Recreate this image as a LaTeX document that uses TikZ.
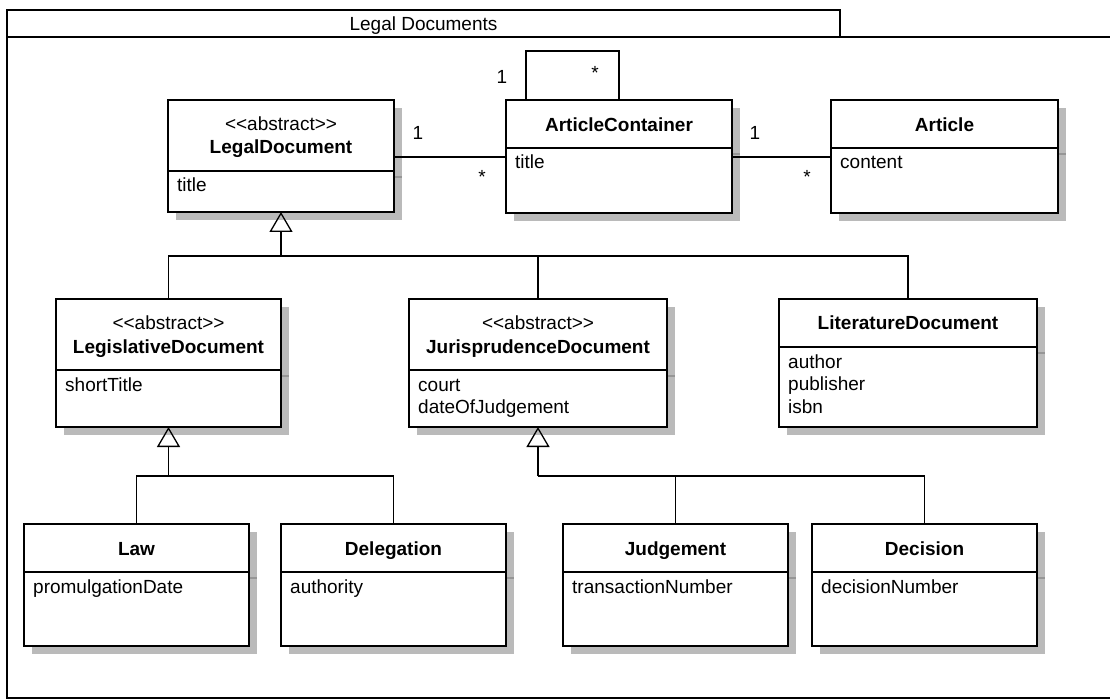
\documentclass[tikz,border=0pt]{standalone}
\usepackage{fontspec}
\setmainfont{Liberation Sans}
\usetikzlibrary{arrows.meta,calc}
\definecolor{shadowgray}{RGB}{186,186,186}
\definecolor{shadowline}{RGB}{150,150,150}
\tikzset{
  clsbox/.style={draw, line width=2.6pt, fill=white, inner sep=0pt, outer sep=0pt},
  boxline/.style={line width=2.6pt},
  frame/.style={line width=2pt},
  conn/.style={line width=1.3pt},
  gen/.style={-{Triangle[open,width=23pt,length=20pt,line width=1.3pt]}},
  txt/.style={inner sep=0pt, font=\fontsize{19}{22}\selectfont},
  hdr/.style={txt, anchor=base},
  bhdr/.style={txt, anchor=base, font=\fontsize{19}{22}\selectfont\bfseries},
  attr/.style={txt, anchor=base west},
  mult/.style={txt, anchor=center},
}
% name, left, top, right, divider, bottom
\newcommand\umlbox[6]{%
  \fill[shadowgray] (#2+8,#3+8) rectangle (#4+8,#6+8);
  \draw[shadowline, line width=1.2pt] (#4+1,#5+6) -- (#4+8,#5+6);
  \node[clsbox, minimum width={(#4-#2)*1pt}, minimum height={(#6-#3)*1pt}] (#1) at ({(#2+#4)/2},{(#3+#6)/2}) {};
  \draw[boxline] (#2,#5) -- (#4,#5);
}
\begin{document}
\begin{tikzpicture}[x=1pt,y=-1pt]
\useasboundingbox (0,0) rectangle (1110,700);
% package frame
\node[draw, frame, minimum width=833pt, minimum height=27pt, inner sep=0pt, outer sep=0pt] (tab) at (423.5,23.5) {};
\node[hdr] (tabtxt) at (423.5,31) {Legal Documents};
\draw[frame] (1112,37) -- (7,37) -- (7,698) -- (1112,698);

% classes
\umlbox{ld}{168}{100}{394}{171}{212}
\node[hdr] (ld-s) at (281,131) {<\kern0pt<abstract>\kern0pt>};
\node[bhdr] (ld-n) at (281,154) {LegalDocument};
\node[attr] (ld-a1) at (177,192) {title};

\umlbox{ac}{506}{100}{732}{148}{213}
\node[bhdr] (ac-n) at (619,132) {ArticleContainer};
\node[attr] (ac-a1) at (515,169) {title};

\umlbox{art}{831}{100}{1058}{148}{213}
\node[bhdr] (art-n) at (944.5,132) {Article};
\node[attr] (art-a1) at (840,169) {content};

\umlbox{leg}{56}{299}{281}{370}{427}
\node[hdr] (leg-s) at (168.5,330) {<\kern0pt<abstract>\kern0pt>};
\node[bhdr] (leg-n) at (168.5,353) {LegislativeDocument};
\node[attr] (leg-a1) at (65,391) {shortTitle};

\umlbox{jur}{409}{299}{667}{370}{427}
\node[hdr] (jur-s) at (538,330) {<\kern0pt<abstract>\kern0pt>};
\node[bhdr] (jur-n) at (538,353) {JurisprudenceDocument};
\node[attr] (jur-a1) at (418,391) {court};
\node[attr] (jur-a2) at (418,413.5) {dateOfJudgement};

\umlbox{lit}{779}{299}{1037}{347}{427}
\node[bhdr] (lit-n) at (908,330) {LiteratureDocument};
\node[attr] (lit-a1) at (788,368) {author};
\node[attr] (lit-a2) at (788,390.5) {publisher};
\node[attr] (lit-a3) at (788,413) {isbn};

\umlbox{law}{24}{524}{249}{572}{646}
\node[bhdr] (law-n) at (136.5,555) {Law};
\node[attr] (law-a1) at (33,593) {promulgationDate};

\umlbox{del}{281}{524}{506}{572}{646}
\node[bhdr] (del-n) at (393.5,555) {Delegation};
\node[attr] (del-a1) at (290,593) {authority};

\umlbox{jud}{563}{524}{788}{572}{646}
\node[bhdr] (jud-n) at (675.5,555) {Judgement};
\node[attr] (jud-a1) at (572,593) {transactionNumber};

\umlbox{dec}{812}{524}{1037}{572}{646}
\node[bhdr] (dec-n) at (924.5,555) {Decision};
\node[attr] (dec-a1) at (821,593) {decisionNumber};

% associations
\coordinate (asy) at (0,157);
\draw[conn] (ld.east |- asy) -- (ac.west |- asy);
\draw[conn] (ac.east |- asy) -- (art.west |- asy);
\node[mult] (m1) at (418,133) {1};
\node[mult] (m2) at (482,177) {*};
\node[mult] (m3) at (755,133) {1};
\node[mult] (m4) at (807,177) {*};
% self association
\coordinate (loopL) at (526,51);
\draw[conn] (ac.north -| loopL) -- (loopL) -| (ac.north);
\node[mult] (m5) at (502,77) {1};
\node[mult] (m6) at (595,73) {*};

% generalizations
\coordinate (b1) at (281,256);
\draw[conn] (leg.north) |- (b1) -| (lit.north);
\draw[conn] (jur.north) -- (jur.north |- b1);
\draw[conn,gen] (b1) -- (ld.south);

\coordinate (b2) at (168.5,476);
\draw[conn] (law.north) |- (b2) -| (del.north);
\draw[conn,gen] (b2) -- (leg.south);

\coordinate (b3) at (538,476);
\draw[conn] (b3) -| (jud.north);
\draw[conn] (jud.north |- b3) -| (dec.north);
\draw[conn,gen] (b3) -- (jur.south);
\end{tikzpicture}
\end{document}
